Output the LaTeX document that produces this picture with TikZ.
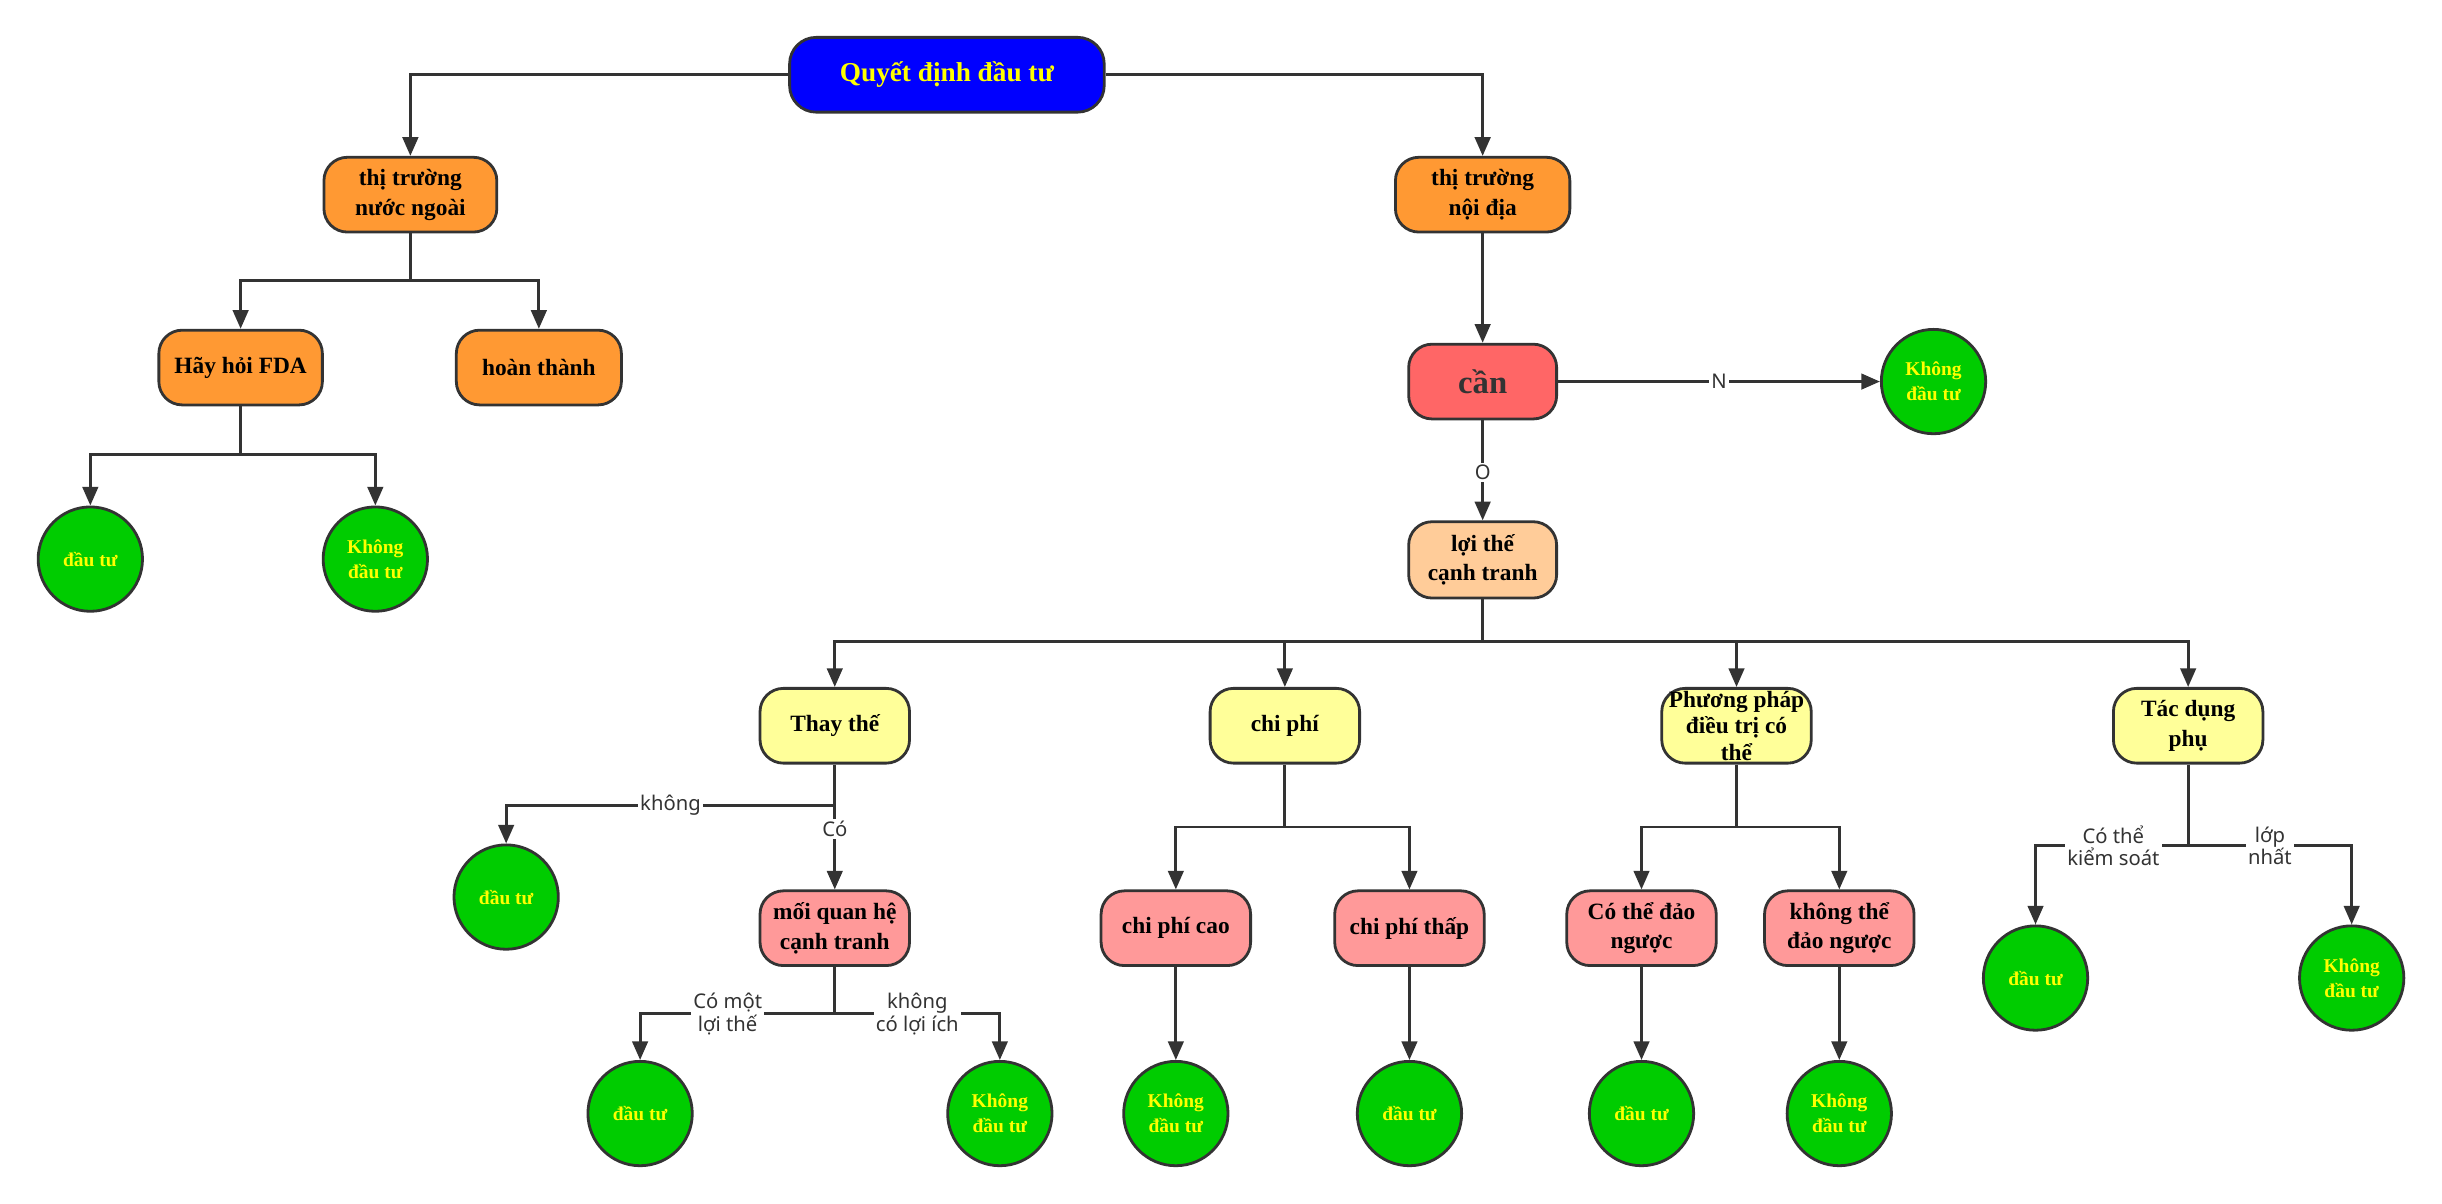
\documentclass[tikz,border=0pt]{standalone}
\usepackage{fontspec}
\setmainfont{Liberation Serif}
\newfontfamily\lblfam{Noto Sans}
\usetikzlibrary{arrows.meta}
\definecolor{linec}{HTML}{333333}
\definecolor{topblue}{HTML}{0000FF}
\definecolor{orng}{HTML}{FF9933}
\definecolor{redc}{HTML}{FF6666}
\definecolor{peach}{HTML}{FFCC99}
\definecolor{lyel}{HTML}{FFFF99}
\definecolor{pinkc}{HTML}{FF9999}
\definecolor{leafg}{HTML}{00CC00}
\definecolor{ytext}{HTML}{FFFF00}
\begin{document}
\begin{tikzpicture}[x=1pt,y=-1pt,
  box/.style={draw=linec, line width=1.8pt, rounded corners=15pt, minimum height=48pt, minimum width=96pt, inner sep=0pt, align=center, font=\bfseries\fontsize{15}{19}\selectfont},
  leaf/.style={circle, draw=linec, line width=1.8pt, fill=leafg, minimum size=67pt, inner sep=0pt, align=center, text=ytext, font=\bfseries\fontsize{12.5}{16}\selectfont},
  lbl/.style={fill=white, inner sep=1.5pt, font=\lblfam\fontsize{13}{14.5}\selectfont, text=linec, align=center},
  arr/.style={draw=linec, line width=1.8pt, -{Triangle[length=12pt,width=10pt]}},
  ln/.style={draw=linec, line width=1.8pt}]
\useasboundingbox (0,0) rectangle (1568,773);
% nodes
\node[box, fill=topblue, text=ytext, minimum width=202pt, rounded corners=17pt, font=\bfseries\fontsize{17.5}{20}\selectfont] (top) at (608,48) {Quyết định đầu tư};
\node[box, fill=orng, minimum width=111pt] (ngoai) at (263.5,125) {thị trường\\nước ngoài};
\node[box, fill=orng, minimum width=112pt] (noi) at (952,125) {thị trường\\nội địa};
\node[box, fill=orng, minimum width=105pt] (fda) at (154.5,236) {Hãy hỏi FDA};
\node[box, fill=orng, minimum width=106pt] (hoan) at (346,236) {hoàn thành};
\node[leaf] (dta) at (58,359) {đầu tư};
\node[leaf] (kdta) at (241,359) {Không\\đầu tư};
\node[box, fill=redc, minimum width=95pt, text=linec, font=\bfseries\fontsize{21}{24}\selectfont] (can) at (952,245) {cần};
\node[leaf] (k1) at (1241.5,245) {Không\\đầu tư};
\node[box, fill=peach, minimum width=95pt, minimum height=49pt] (loi) at (952,359.5) {lợi thế\\cạnh tranh};
\node[box, fill=lyel] (thay) at (536,466) {Thay thế};
\node[box, fill=lyel] (chiphi) at (825,466) {chi phí};
\node[box, fill=lyel, font=\bfseries\fontsize{15}{17}\selectfont] (pp) at (1115,466) {Phương pháp\\điều trị có\\thể};
\node[box, fill=lyel] (tac) at (1405,466) {Tác dụng\\phụ};
\node[leaf] (dtb) at (325,576) {đầu tư};
\node[box, fill=pinkc] (moi) at (536,596) {mối quan hệ\\cạnh tranh};
\node[leaf] (dtc) at (411,715) {đầu tư};
\node[leaf] (kdtc) at (642,715) {Không\\đầu tư};
\node[box, fill=pinkc] (cao) at (755,596) {chi phí cao};
\node[box, fill=pinkc] (thap) at (905,596) {chi phí thấp};
\node[leaf] (kdtd) at (755,715) {Không\\đầu tư};
\node[leaf] (dtd) at (905,715) {đầu tư};
\node[box, fill=pinkc] (dao) at (1054,596) {Có thể đảo\\ngược};
\node[box, fill=pinkc] (kdao) at (1181,596) {không thể\\đảo ngược};
\node[leaf] (dte) at (1054,715) {đầu tư};
\node[leaf] (kdte) at (1181,715) {Không\\đầu tư};
\node[leaf] (dtf) at (1307,628) {đầu tư};
\node[leaf] (kdtf) at (1510,628) {Không\\đầu tư};
% junction points
\coordinate (j1) at (263.5,180);
\coordinate (j2) at (154.5,292);
\coordinate (bus) at (952,412);
\coordinate (j3) at (536,517);
\coordinate (j4) at (536,651);
\coordinate (j5) at (825,531);
\coordinate (j6) at (1115,531);
\coordinate (j7) at (1405,543);
% connectors
\draw[arr] (top.west) -| (ngoai.north);
\draw[arr] (top.east) -| (noi.north);
\draw[ln] (ngoai.south) -- (j1);
\draw[arr] (j1) -| (fda.north);
\draw[arr] (j1) -| (hoan.north);
\draw[ln] (fda.south) -- (j2);
\draw[arr] (j2) -| (dta.north);
\draw[arr] (j2) -| (kdta.north);
\draw[arr] (noi.south) -- (can.north);
\draw[arr] (can.east) -- node[lbl]{N} (k1.west);
\draw[arr] (can.south) -- node[lbl, pos=0.52]{O} (loi.north);
\draw[ln] (loi.south) -- (bus);
\draw[arr] (bus) -| (thay.north);
\draw[arr] (bus) -| (chiphi.north);
\draw[arr] (bus) -| (pp.north);
\draw[arr] (bus) -| (tac.north);
\draw[ln] (thay.south) -- (j3);
\draw[arr] (j3) -| node[lbl, pos=0.25]{không} (dtb.north);
\draw[arr] (j3) -- node[lbl, pos=0.28]{Có} (moi.north);
\draw[ln] (moi.south) -- (j4);
\draw[arr] (j4) -| node[lbl, pos=0.275]{Có một\\lợi thế} (dtc.north);
\draw[arr] (j4) -| node[lbl, pos=0.25]{không\\có lợi ích} (kdtc.north);
\draw[ln] (chiphi.south) -- (j5);
\draw[arr] (j5) -| (cao.north);
\draw[arr] (j5) -| (thap.north);
\draw[arr] (cao.south) -- (kdtd.north);
\draw[arr] (thap.south) -- (dtd.north);
\draw[ln] (pp.south) -- (j6);
\draw[arr] (j6) -| (dao.north);
\draw[arr] (j6) -| (kdao.north);
\draw[arr] (dao.south) -- (dte.north);
\draw[arr] (kdao.south) -- (kdte.north);
\draw[ln] (tac.south) -- (j7);
\draw[arr] (j7) -| node[lbl, pos=0.245]{Có thể\\kiểm soát} (dtf.north);
\draw[arr] (j7) -| node[lbl, pos=0.25]{lớp\\nhất} (kdtf.north);
\end{tikzpicture}
\end{document}
